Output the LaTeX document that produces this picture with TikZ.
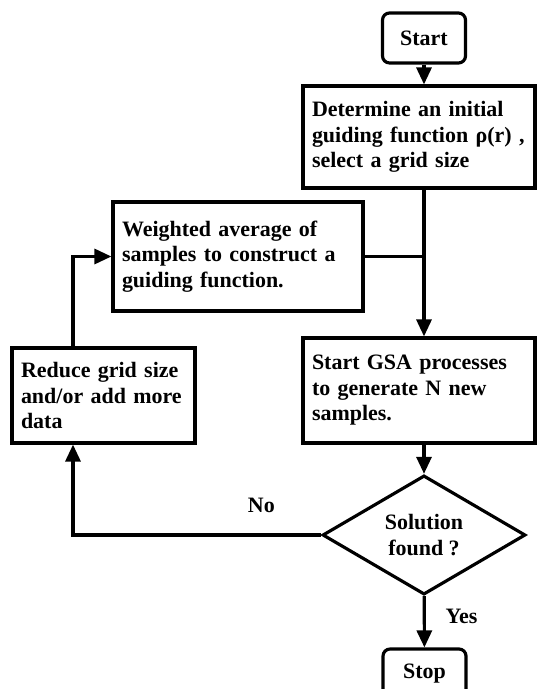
\documentclass[tikz,border=0pt]{standalone}
\usepackage{fontspec}
\setmainfont{Liberation Serif}
\usetikzlibrary{shapes.geometric,arrows.meta}

\tikzset{
  box/.style={draw, line width=1.8pt, align=left, inner sep=0.18cm,
    font=\fontsize{12.5}{14.5}\selectfont\bfseries},
  term/.style={box, align=center, rounded corners=4pt, minimum width=1.66cm, minimum height=1cm},
  decision/.style={box, diamond, align=center, inner sep=0pt, minimum width=4.06cm, minimum height=2.16cm},
  link/.style={line width=1.8pt},
  arr/.style={link, -{Triangle[length=0.34cm,width=0.3cm]}},
  lbl/.style={font=\fontsize{12.5}{14.5}\selectfont\bfseries}
}

\begin{document}
\begin{tikzpicture}
\useasboundingbox (0,0) rectangle (10.76,-13.78);

\node[term] (start) at (8.48,-0.76) {Start};
\node[box, text width=4.28cm, minimum height=2.04cm] (det) at (8.38,-2.74)
  {Determine an initial\\guiding function ρ(r) ,\\select a grid size};
\node[box, text width=4.64cm, minimum height=2.18cm] (wgt) at (4.76,-5.13)
  {Weighted average of\\samples to construct a\\guiding function.};
\node[box, text width=3.3cm, minimum height=1.9cm] (red) at (2.07,-7.91)
  {Reduce grid size\\and/or add more\\data};
\node[box, text width=4.28cm, minimum height=2.1cm] (gsa) at (8.38,-7.81)
  {Start GSA processes\\to generate N new\\samples.};
\node[decision] (dec) at (8.48,-10.7) {Solution\\found ?};
\node[term] (stop) at (8.49,-13.48) {Stop};
\coordinate (noturn) at (1.46,-10.7);

\draw[arr] (start) -- (start |- det.north);
\draw[arr] (det.south -| start) -- (gsa.north -| start);
\draw[link] (wgt.east) -- (wgt.east -| start);
\draw[arr] (gsa.south -| dec) -- (dec);
\draw[arr] (dec) -- node[lbl, pos=0.24, above=0.3cm] (no) {No} (noturn) -- (noturn |- red.south);
\draw[arr] (noturn |- red.north) |- (wgt.west);
\draw[arr] (dec) -- node[lbl, right=0.28cm, pos=0.4] (yes) {Yes} (stop);
\end{tikzpicture}
\end{document}
